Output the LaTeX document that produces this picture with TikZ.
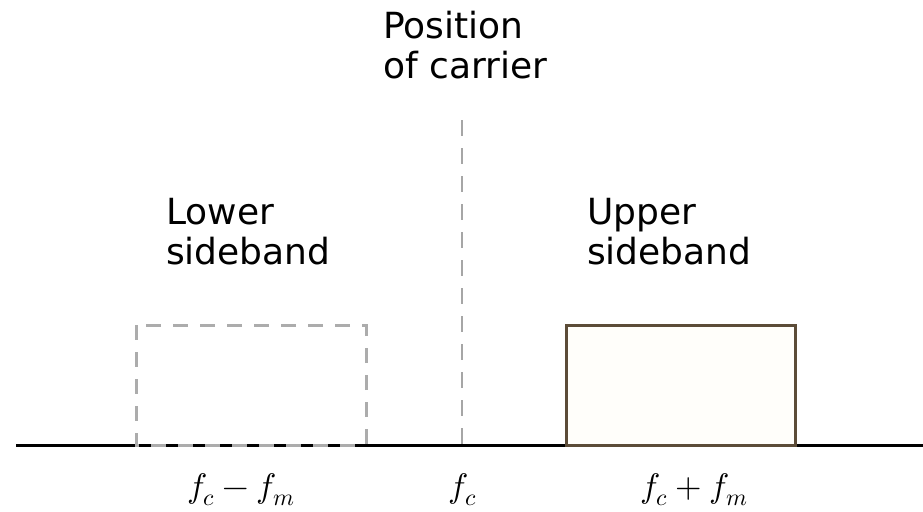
\documentclass[tikz,border=0pt]{standalone}
\usepackage{amsmath}
\usepackage{unicode-math}
\setmainfont{DejaVu Sans}
\setmathfont{Latin Modern Math}

\begin{document}
\begin{tikzpicture}[x=1pt, y=-1pt,
  lbl/.style={font=\fontsize{36}{40}\selectfont, align=left, anchor=base west, inner sep=0pt},
  flbl/.style={font=\fontsize{34}{40}\selectfont, anchor=base, inner sep=0pt},
  band/.style={line width=3pt}]
\useasboundingbox (0,0) rectangle (923,511);
% ---- frequency axis ----
\coordinate (axL) at (16,445);
\coordinate (axR) at (923,445);
\draw[line width=3pt] (axL) -- (axR);
% ---- carrier position ----
\coordinate (carTop) at (462,120);
\coordinate (carBot) at (462,445);
\draw[gray!70, line width=2pt, dash pattern=on 16pt off 12pt] (carTop) -- (carBot);
\node[lbl] (carrier) at (383,78) {Position\\of carrier};
% ---- sidebands ----
\draw[band, gray!65, dash pattern=on 15pt off 12pt] (136,325) rectangle (366,445);
\draw[band, draw={rgb,255:red,92;green,76;blue,56}, fill={rgb,255:red,255;green,254;blue,250}]
  (566,325) rectangle (795,445);
\node[lbl] (lower) at (166,264) {Lower\\sideband};
\node[lbl] (upper) at (587,264) {Upper\\sideband};
% ---- frequencies ----
\node[flbl] (fl) at (241,497) {$f_c - f_m$};
\node[flbl] (fc) at (463,497) {$f_c$};
\node[flbl] (fu) at (694,497) {$f_c + f_m$};
\end{tikzpicture}
\end{document}
